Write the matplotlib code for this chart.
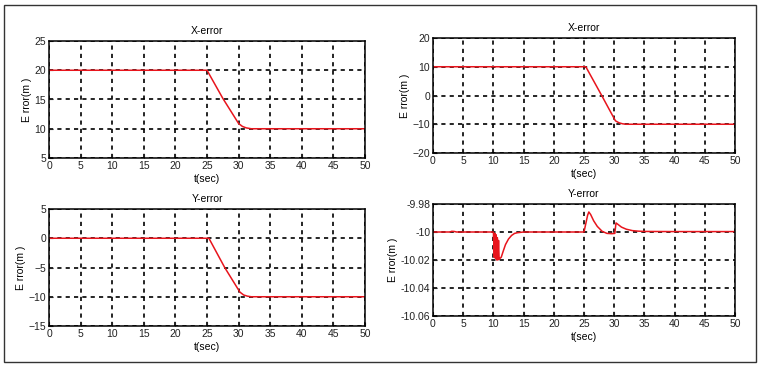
import numpy as np
import matplotlib.pyplot as plt
from matplotlib.patches import Rectangle

plt.rcParams['font.family'] = ['Liberation Sans', 'DejaVu Sans']
plt.rcParams['font.size'] = 7.5

# top-left: X-error
t_x1 = [0, 25, 27.5, 30, 30.6, 31.2, 32, 50]
e_x1 = [20, 20, 15.2, 10.9, 10.4, 10.15, 10, 10]

# top-right: X-error
t_x2 = [0, 25.3, 27.8, 30.2, 30.8, 31.4, 32, 50]
e_x2 = [10, 10, 0.5, -8.8, -9.5, -9.85, -10, -10]

# bottom-left: Y-error
t_y1 = [0, 25.3, 27.8, 30.2, 30.8, 31.4, 32, 50]
e_y1 = [0, 0, -5, -9.2, -9.7, -9.9, -10, -10]

# bottom-right: Y-error (zoomed)
t_y2 = [0, 2.8, 3.1, 3.5, 3.9, 10.0, 10.15, 10.25, 10.35, 10.45, 10.55, 10.65,
        10.75, 10.85, 10.95, 11.05, 11.3, 11.6, 12.0, 12.5, 13.0, 13.5, 14.0,
        15.0, 25.0, 25.3, 25.6, 25.8, 26.1, 26.6, 27.2, 28.0, 28.8, 29.6, 30.1,
        30.3, 30.6, 31.2, 32.0, 33.0, 34.0, 35.0, 40.0, 50.0]
e_y2 = [-10.0, -10.0, -9.9995, -9.9996, -10.0, -10.0, -10.018, -10.001, -10.019,
        -10.002, -10.02, -10.004, -10.02, -10.006, -10.0195, -10.019, -10.018,
        -10.014, -10.009, -10.005, -10.0025, -10.001, -10.0005, -10.0, -10.0,
        -9.994, -9.988, -9.9857, -9.9875, -9.992, -9.996, -9.9995, -10.001,
        -10.0012, -10.001, -9.9935, -9.9945, -9.9965, -9.998, -9.999, -9.9994,
        -9.9996, -9.9997, -9.9997]

fig = plt.figure(figsize=(7.61, 3.67), dpi=100)
fig.patches.append(Rectangle((4 / 761, 1 - 362 / 367), 752 / 761, 357 / 367,
                             transform=fig.transFigure, fill=False,
                             edgecolor='#333333', linewidth=1))

W, H = 761, 367


def add_ax(x0, y0, x1, y1):
    return fig.add_axes([x0 / W, 1 - y1 / H, (x1 - x0) / W, (y1 - y0) / H])


panels = [
    (add_ax(49, 41, 365, 158), t_x1, e_x1, 'X-error', (5, 25), [5, 10, 15, 20, 25], None),
    (add_ax(433, 38, 735, 153), t_x2, e_x2, 'X-error', (-20, 20), [-20, -10, 0, 10, 20], None),
    (add_ax(49, 209, 365, 326), t_y1, e_y1, 'Y-error', (-15, 5), [-15, -10, -5, 0, 5], None),
    (add_ax(433, 204, 735, 316), t_y2, e_y2, 'Y-error', (-10.06, -9.98),
     [-10.06, -10.04, -10.02, -10.0, -9.98], ['-10.06', '-10.04', '-10.02', '-10', '-9.98']),
]

for ax, t, e, title, ylim, yticks, ylabels in panels:
    ax.plot(t, e, color='#e8141c', linewidth=1.1)
    ax.set_xlim(0, 50)
    ax.set_ylim(*ylim)
    ax.set_xticks(range(0, 51, 5))
    ax.set_yticks(yticks)
    if ylabels:
        ax.set_yticklabels(ylabels)
    ax.grid(True, color='black', linestyle=(0, (2.5, 2.5)), linewidth=1.2)
    ax.set_title(title, fontsize=7.5, pad=5)
    ax.set_xlabel('t(sec)', fontsize=7.5, labelpad=2)
    ax.set_ylabel('E rror(m )', fontsize=7.5, labelpad=2)
    ax.tick_params(direction='in', length=3, pad=2, labelsize=7.5, colors='#222222')
    for s in ax.spines.values():
        s.set_linewidth(1.1)

fig.savefig('out.png', dpi=100)
